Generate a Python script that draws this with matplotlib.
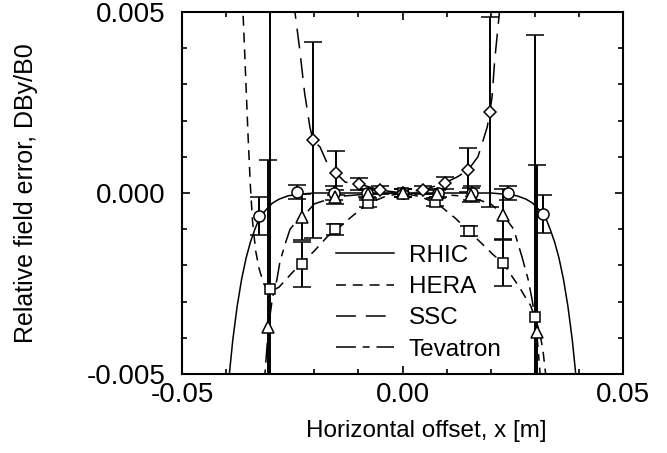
import matplotlib
matplotlib.use("Agg")
import matplotlib.pyplot as plt
from matplotlib.ticker import MultipleLocator, FuncFormatter

plt.rcParams['font.family'] = ['Liberation Sans', 'DejaVu Sans']

# fitted curves
rhic_cx = [-0.0396, -0.0385, -0.0375, -0.0365, -0.0355, -0.0345, -0.0335, -0.0325,
           -0.0310, -0.0295, -0.0280, -0.0260, -0.0240, -0.0200, 0.0,
           0.0200, 0.0240, 0.0260, 0.0280, 0.0295, 0.0310, 0.0325, 0.0335,
           0.0345, 0.0355, 0.0365, 0.0375, 0.0385, 0.0396]
rhic_cy = [-0.0054, -0.00407, -0.00313, -0.00239, -0.00181, -0.00136, -0.00101, -0.0007,
           -0.00047, -0.00028, -0.00017, -0.00008, -0.00004, 0.0, 0.0,
           0.0, -0.00004, -0.00008, -0.00017, -0.00028, -0.00047, -0.0007, -0.00101,
           -0.00136, -0.00181, -0.00239, -0.00313, -0.00407, -0.0054]

hera_cx = [-0.0364, -0.0360, -0.0355, -0.0350, -0.0345, -0.0340, -0.0333, -0.0325,
           -0.0315, -0.0305, -0.0295, -0.0280, -0.0265, -0.0250, -0.0230, -0.0200,
           -0.0170, -0.0150, -0.0120, -0.0080, -0.0040, 0.0,
           0.0040, 0.0080, 0.0120, 0.0150, 0.0180, 0.0205, 0.0228, 0.0248,
           0.0265, 0.0278, 0.0290, 0.0300, 0.0310, 0.0318, 0.0330]
hera_cy = [0.0056, 0.0045, 0.0030, 0.0015, 0.0002, -0.0008, -0.0016, -0.0021,
           -0.0025, -0.0027, -0.0027, -0.0026, -0.0024, -0.0022, -0.00195, -0.0016,
           -0.0012, -0.00102, -0.0007, -0.0003, -0.0001, 0.0,
           -0.0001, -0.0003, -0.0007, -0.00105, -0.0014, -0.0017, -0.00193, -0.0023,
           -0.0026, -0.00287, -0.0031, -0.00343, -0.0038, -0.0043, -0.0056]

ssc_cx = [-0.0246, -0.0244, -0.0233, -0.0222, -0.0210, -0.0203, -0.0187, -0.0169,
          -0.0151, -0.0130, -0.0098, -0.0051, 0.0,
          0.0051, 0.0096, 0.0125, 0.0149, 0.0171, 0.0192, 0.0198, 0.0203,
          0.0209, 0.0219, 0.0222]
ssc_cy = [0.0054, 0.0050, 0.00395, 0.00276, 0.00182, 0.00146, 0.00127, 0.00077,
          0.00055, 0.0003, 0.00025, 0.00008, 0.0,
          0.0001, 0.00028, 0.00045, 0.00064, 0.001, 0.00182, 0.00224, 0.00265,
          0.00367, 0.0049, 0.0054]

tev_cx = [-0.0317, -0.0312, -0.0304, -0.0295, -0.0285, -0.0278, -0.0266, -0.0255,
          -0.0235, -0.0226, -0.0200, -0.0150, -0.0080, 0.0,
          0.0080, 0.0150, 0.0200, 0.0228, 0.0252, 0.0271, 0.0285, 0.0294,
          0.0304, 0.0312, 0.0317]
tev_cy = [-0.0058, -0.0050, -0.0037, -0.0029, -0.0024, -0.0019, -0.0014, -0.0010,
          -0.0007, -0.00066, -0.0003, -0.0001, -0.00003, 0.0,
          -0.00003, -0.0001, -0.0003, -0.0006, -0.001, -0.00177, -0.0024, -0.00296,
          -0.0038, -0.0050, -0.0058]

# measured points with error bars
rhic_x = [-0.0325, -0.0240, -0.0155, -0.0080, 0.0, 0.0080, 0.0157, 0.0240, 0.0319]
rhic_y = [-0.00064, 0.00003, 0.0, 0.0, 0.0, 0.0, 0.0, 0.0, -0.00058]
rhic_e = [0.00053, 0.0002, 0.0002, 0.0001, 0.0001, 0.0001, 0.0002, 0.0002, 0.00053]

hera_x = [-0.0301, -0.0228, -0.0152, -0.0078, 0.0, 0.0074, 0.0150, 0.0227, 0.0300]
hera_y = [-0.00265, -0.00197, -0.00100, -0.00028, 0.0, -0.00025, -0.00105, -0.00193, -0.00343]
hera_e = [0.0082, 0.00063, 0.00015, 0.0001, 0.0001, 0.0001, 0.00015, 0.00065, 0.0078]

ssc_x = [-0.0203, -0.0151, -0.0098, -0.0051, 0.0, 0.0046, 0.0096, 0.0149, 0.0198]
ssc_y = [0.00146, 0.00055, 0.00025, 0.00008, 0.0, 0.00008, 0.00028, 0.00064, 0.00224]
ssc_e = [0.0027, 0.0006, 0.00017, 0.0001, 0.0001, 0.0001, 0.00017, 0.0006, 0.00262]

tev_x = [-0.0306, -0.0227, -0.0152, -0.0078, 0.0, 0.0078, 0.0155, 0.0228, 0.0305]
tev_y = [-0.0037, -0.00066, -0.00011, -0.00003, 0.0, -0.00003, -0.00006, -0.0006, -0.00383]
tev_e = [0.0046, 0.00064, 0.0002, 0.0001, 0.0001, 0.0001, 0.0002, 0.0007, 0.0046]

fig = plt.figure(figsize=(6.67, 4.53), dpi=100)
ax = fig.add_axes([0.2729, 0.1744, 0.6612, 0.7991])

lw = 1.1
ax.plot(rhic_cx, rhic_cy, color='black', lw=lw, label='RHIC')
ax.plot(hera_cx, hera_cy, color='black', lw=lw, dashes=(6.5, 4.5), label='HERA')
ax.plot(ssc_cx, ssc_cy, color='black', lw=lw, dashes=(13, 6.5), label='SSC')
ax.plot(tev_cx, tev_cy, color='black', lw=lw, dashes=(13, 4.5, 4.5, 4.5), label='Tevatron')

for x, y, e, m, ms in [(rhic_x, rhic_y, rhic_e, 'o', 8),
                       (hera_x, hera_y, hera_e, 's', 6.5),
                       (ssc_x, ssc_y, ssc_e, 'D', 6.5),
                       (tev_x, tev_y, tev_e, '^', 8)]:
    ax.errorbar(x, y, yerr=e, fmt=m, ms=ms, mfc='white', mec='black', mew=1.1,
                ecolor='black', elinewidth=1.4, capsize=6.5, capthick=1.3, zorder=3)

ax.set_xlim(-0.05, 0.05)
ax.set_ylim(-0.005, 0.005)
ax.xaxis.set_major_locator(MultipleLocator(0.05))
ax.xaxis.set_minor_locator(MultipleLocator(0.01))
ax.yaxis.set_major_locator(MultipleLocator(0.005))
ax.yaxis.set_minor_locator(MultipleLocator(0.001))
ax.xaxis.set_major_formatter(FuncFormatter(lambda v, p: f'{v:.2f}' if abs(v) > 1e-9 else '0.00'))
ax.yaxis.set_major_formatter(FuncFormatter(lambda v, p: f'{v:.3f}' if abs(v) > 1e-9 else '0.000'))
ax.tick_params(which='both', direction='in', top=True, right=True, labelsize=20, width=1.2)
ax.tick_params(which='major', length=6)
ax.tick_params(which='minor', length=3.5)
ax.tick_params(axis='y', pad=12)
ax.tick_params(axis='x', pad=6)
for s in ax.spines.values():
    s.set_linewidth(1.5)

ax.set_xlabel('Horizontal offset, x [m]', fontsize=17.5, labelpad=8)
ax.xaxis.set_label_coords(0.553, -0.126)
ax.set_ylabel('Relative field error, DBy/B0', fontsize=18, labelpad=35)

ax.legend(loc='upper left', bbox_to_anchor=(0.349, 0.357), frameon=False, fontsize=17.5,
          handlelength=2.4, handletextpad=0.6, labelspacing=0.38, borderpad=0, borderaxespad=0)

fig.savefig('out.png', dpi=100)
